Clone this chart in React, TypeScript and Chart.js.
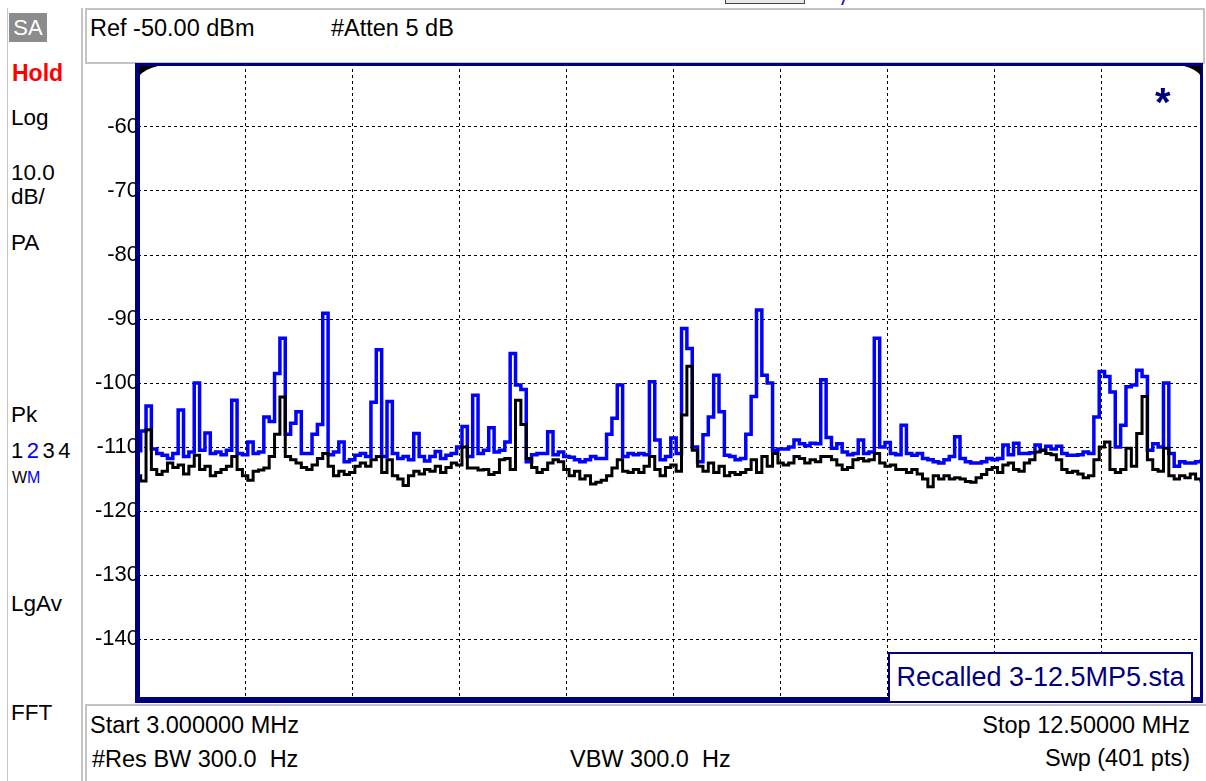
import React, { useEffect, useRef } from 'react';
import { Chart, registerables } from 'chart.js';

Chart.register(...registerables);

// ---- sweep / axis definition ----
const START_MHZ = 3.0;
const STOP_MHZ = 12.5;
const POINTS = 201;
const VISIBLE_STOP_MHZ = 12.438; // the right-hand division is cut off on screen
const REF_DBM = -50;
const BOTTOM_DBM = -150;
const Y_TICKS = [-60, -70, -80, -90, -100, -110, -120, -130, -140];
const X_GRID = [3.95, 4.9, 5.85, 6.8, 7.75, 8.7, 9.65, 10.6, 11.55];

// ---- text ----
const HEADER_LEFT = 'Ref -50.00 dBm';
const HEADER_MID = '#Atten 5 dB';
const FOOT_START = 'Start 3.000000 MHz';
const FOOT_STOP = 'Stop 12.50000 MHz';
const FOOT_RBW = '#Res BW 300.0  Hz';
const FOOT_VBW = 'VBW 300.0  Hz';
const FOOT_SWP = 'Swp (401 pts)';
const RECALLED = 'Recalled 3-12.5MP5.sta';

// ---- trace 2 (blue, max hold) in dBm ----
const TRACE2_MAXHOLD = [
  -110.6, -107.5, -103.6, -110.3, -111.0, -111.3, -111.8, -111.0, -104.2, -111.5,
  -110.8, -100.0, -110.5, -107.8, -111.0, -110.8, -111.2, -110.5, -102.7, -111.0,
  -111.2, -109.2, -111.0, -110.8, -105.3, -106.0, -98.5, -93.0, -108.0, -106.3,
  -104.5, -111.0, -111.0, -108.0, -106.5, -89.1, -111.2, -110.8, -109.2, -112.3,
  -112.0, -111.3, -111.0, -111.5, -103.0, -94.8, -111.5, -102.9, -111.0, -111.8,
  -111.5, -112.0, -107.9, -111.5, -112.2, -111.5, -110.7, -111.8, -111.3, -111.0,
  -110.0, -106.8, -111.5, -101.9, -111.0, -110.5, -107.0, -110.8, -110.5, -109.2,
  -95.4, -100.3, -101.0, -112.3, -111.2, -111.0, -111.0, -107.6, -111.2, -110.8,
  -111.5, -111.6, -112.0, -112.3, -112.0, -111.5, -111.8, -111.8, -108.0, -105.5,
  -100.3, -111.5, -111.0, -111.2, -111.0, -111.2, -99.8, -108.9, -112.0, -111.5,
  -108.6, -111.0, -91.5, -94.6, -110.0, -112.3, -108.1, -105.3, -98.8, -104.5,
  -111.3, -111.5, -112.0, -111.8, -108.0, -102.1, -88.6, -98.8, -100.0, -110.5,
  -110.3, -110.3, -110.0, -108.9, -109.5, -109.8, -109.4, -109.5, -99.5, -108.5,
  -110.2, -109.5, -110.8, -111.2, -111.0, -108.9, -111.0, -110.8, -93.0, -110.0,
  -109.3, -111.0, -111.2, -106.6, -111.0, -111.3, -111.0, -111.8, -112.0, -112.3,
  -112.5, -112.0, -111.5, -108.4, -111.8, -112.3, -112.5, -112.5, -112.3, -111.8,
  -112.0, -111.8, -109.7, -111.2, -109.4, -111.0, -111.0, -110.9, -109.7, -110.5,
  -109.9, -110.3, -109.9, -111.0, -111.3, -111.3, -111.2, -110.8, -111.0, -105.3,
  -98.2, -99.0, -101.4, -110.0, -106.6, -100.6, -100.3, -98.0, -99.0, -110.5,
  -109.5, -110.0, -100.0, -111.0, -113.0, -112.3, -112.5, -112.5, -112.3, -112.2,
  -112.2,
];

// ---- trace 1 (black, clear write) in dBm ----
const TRACE1_WRITE = [
  -114.5, -115.3, -107.3, -113.5, -114.3, -113.8, -112.5, -113.2, -112.8, -114.2,
  -113.0, -111.3, -113.5, -113.0, -114.5, -114.0, -113.5, -113.0, -111.5, -113.5,
  -114.5, -115.2, -113.8, -113.6, -113.3, -111.5, -108.0, -102.2, -111.5, -112.0,
  -112.5, -113.2, -113.5, -112.8, -111.8, -111.0, -113.0, -114.5, -113.8, -114.3,
  -114.0, -113.0, -112.5, -113.0, -112.0, -111.5, -114.0, -112.0, -114.5, -115.0,
  -116.0, -114.5, -113.8, -114.2, -113.5, -113.8, -113.0, -114.0, -113.2, -112.5,
  -112.8, -110.0, -113.3, -113.3, -113.6, -113.5, -114.3, -114.0, -112.0, -111.8,
  -113.5, -102.7, -106.5, -111.8, -113.2, -114.0, -113.5, -112.5, -112.0, -112.3,
  -113.5, -114.5, -113.8, -115.0, -114.5, -115.8, -115.5, -115.2, -114.5, -113.3,
  -112.0, -113.8, -114.0, -113.5, -114.0, -113.0, -111.5, -113.5, -114.5, -113.2,
  -112.8, -113.8, -105.0, -97.4, -110.5, -113.0, -113.8, -112.5, -114.0, -113.0,
  -114.5, -114.0, -114.3, -114.0, -113.5, -112.0, -114.0, -111.5, -113.0, -111.0,
  -112.5, -112.8, -112.5, -111.5, -111.8, -112.5, -112.0, -112.3, -111.5, -111.5,
  -112.0, -112.8, -113.5, -113.2, -112.0, -111.8, -112.2, -112.0, -111.0, -112.5,
  -113.0, -112.8, -113.5, -113.5, -114.0, -113.5, -114.2, -115.0, -116.2, -114.5,
  -115.0, -114.5, -115.0, -114.8, -115.0, -115.4, -115.5, -114.8, -114.3, -113.5,
  -113.2, -114.0, -112.8, -112.5, -113.5, -113.8, -112.5, -112.0, -110.8, -110.5,
  -111.0, -111.2, -112.0, -113.5, -114.0, -113.8, -114.2, -114.8, -114.5, -112.0,
  -110.0, -109.2, -113.5, -114.0, -113.5, -110.2, -113.0, -107.9, -102.1, -112.0,
  -113.5, -113.8, -110.2, -114.5, -115.0, -114.5, -114.8, -114.2, -115.0, -115.3,
  -115.0,
];

const FREQS = Array.from({ length: POINTS }, (_, i) => START_MHZ + (i * (STOP_MHZ - START_MHZ)) / (POINTS - 1));

const NAVY = '#00007f';
const FONT = '"Liberation Sans", Arial, sans-serif';
const PANEL_GRAY = '#c4c4c4';

const framePlugin = {
  id: 'saFrame',
  afterDraw(chart: any) {
    const { ctx, chartArea: a } = chart;
    ctx.save();
    ctx.fillStyle = NAVY;
    const l = a.left - 3;
    const w = a.right + 1 - l;
    ctx.fillRect(l, a.top, w, 3);
    ctx.fillRect(l, a.top, 5, a.bottom - a.top);
    ctx.fillRect(l, a.bottom - 6, w, 6);
    ctx.fillRect(a.right - 2, a.top, 3, a.bottom - a.top);
    // corner wedges
    ctx.fillStyle = '#000';
    ctx.beginPath();
    ctx.moveTo(a.left + 1, a.top + 3);
    ctx.lineTo(a.left + 20, a.top + 3);
    ctx.quadraticCurveTo(a.left + 7, a.top + 6, a.left + 1, a.top + 13);
    ctx.closePath();
    ctx.fill();
    ctx.beginPath();
    ctx.moveTo(a.right - 1, a.top + 3);
    ctx.lineTo(a.right - 18, a.top + 3);
    ctx.quadraticCurveTo(a.right - 6, a.top + 6, a.right - 1, a.top + 13);
    ctx.closePath();
    ctx.fill();
    ctx.restore();
  },
};

type TProps = {
  x?: number;
  right?: number;
  cy: number;
  size: number;
  color?: string;
  bold?: boolean;
  spacing?: number;
  children: React.ReactNode;
};

const T = ({ x, right, cy, size, color = '#000', bold = false, spacing = 0, children }: TProps) => (
  <div
    style={{
      position: 'absolute',
      left: right === undefined ? x : undefined,
      right: right !== undefined ? 1206 - right : undefined,
      top: cy - 0.49 * size,
      fontSize: size,
      lineHeight: 1,
      whiteSpace: 'pre',
      color,
      fontWeight: bold ? 'bold' : 'normal',
      letterSpacing: spacing,
      fontFamily: FONT,
    }}
  >
    {children}
  </div>
);

export default function App() {
  const canvasRef = useRef<HTMLCanvasElement | null>(null);

  useEffect(() => {
    if (!canvasRef.current) return;
    const chart = new Chart(canvasRef.current, {
      type: 'line',
      data: {
        datasets: [
          {
            label: 'Trace 1 (W)',
            data: FREQS.map((f, i) => ({ x: f, y: TRACE1_WRITE[i] })),
            borderColor: '#000000',
            borderWidth: 3,
            pointRadius: 0,
            stepped: 'middle',
            fill: false,
          },
          {
            label: 'Trace 2 (M)',
            data: FREQS.map((f, i) => ({ x: f, y: TRACE2_MAXHOLD[i] })),
            borderColor: '#0000ff',
            borderWidth: 3.5,
            pointRadius: 0,
            stepped: 'middle',
            fill: false,
          },
        ],
      },
      options: {
        responsive: false,
        animation: false,
        devicePixelRatio: 1,
        events: [],
        layout: { padding: { left: 88, right: 4, top: 63, bottom: 78 } },
        plugins: { legend: { display: false }, tooltip: { enabled: false } },
        scales: {
          x: {
            type: 'linear',
            min: START_MHZ,
            max: VISIBLE_STOP_MHZ,
            afterBuildTicks: (s: any) => {
              s.ticks = X_GRID.map((v) => ({ value: v }));
            },
            afterFit: (s: any) => {
              s.height = 0;
            },
            ticks: { display: false },
            grid: { color: '#000', lineWidth: 1, drawTicks: false },
            border: { display: false, dash: [3, 3] },
          },
          y: {
            type: 'linear',
            min: BOTTOM_DBM,
            max: REF_DBM,
            afterBuildTicks: (s: any) => {
              s.ticks = Y_TICKS.map((v) => ({ value: v }));
            },
            afterFit: (s: any) => {
              s.width = 50;
            },
            ticks: {
              padding: -1,
              color: '#000',
              font: { family: FONT, size: 22 },
              callback: (v: any) => String(v),
            },
            grid: { color: '#000', lineWidth: 1, drawTicks: false },
            border: { display: false, dash: [3, 3] },
          },
        },
      },
      plugins: [framePlugin],
    } as any);
    return () => chart.destroy();
  }, []);

  return (
    <div
      style={{
        position: 'absolute',
        left: 0,
        top: 0,
        width: 1206,
        height: 781,
        background: '#fff',
        overflow: 'hidden',
        fontFamily: FONT,
      }}
    >
      {/* partial element at the very top */}
      <div style={{ position: 'absolute', left: 725, top: -8, width: 78, height: 10, border: '1px solid #444', background: '#e8e8e8' }} />
      <div style={{ position: 'absolute', left: 842, top: 0, width: 2, height: 5, background: '#2020c0', transform: 'skewX(-20deg)' }} />

      {/* left panel */}
      <div style={{ position: 'absolute', left: 7, top: 8, width: 1, height: 773, background: PANEL_GRAY }} />
      <div style={{ position: 'absolute', left: 81, top: 8, width: 2, height: 773, background: PANEL_GRAY }} />
      <div
        style={{
          position: 'absolute',
          left: 9,
          top: 13,
          width: 38,
          height: 29,
          background: '#8c8c8c',
          color: '#fff',
          fontSize: 22,
          lineHeight: '29px',
          textAlign: 'center',
          fontFamily: FONT,
        }}
      >
        SA
      </div>
      <T x={12} cy={73.5} size={23} color="#ff0000" bold>Hold</T>
      <T x={11} cy={118} size={22.5}>Log</T>
      <T x={11} cy={173} size={22.5}>10.0</T>
      <T x={11} cy={197} size={22.5}>dB/</T>
      <T x={11} cy={243} size={22.5}>PA</T>
      <T x={11} cy={415} size={22.5}>Pk</T>
      <div
        style={{
          position: 'absolute',
          left: 11,
          top: 451 - 0.49 * 22,
          fontSize: 22,
          lineHeight: 1,
          letterSpacing: 3.5,
          fontFamily: FONT,
          whiteSpace: 'pre',
        }}
      >
        <span style={{ color: '#000' }}>1</span>
        <span style={{ color: '#0000ff' }}>2</span>
        <span style={{ color: '#000' }}>34</span>
      </div>
      <div
        style={{
          position: 'absolute',
          left: 12,
          top: 477.5 - 0.49 * 16,
          fontSize: 16,
          lineHeight: 1,
          fontFamily: FONT,
          whiteSpace: 'pre',
        }}
      >
        <span style={{ color: '#000' }}>W</span>
        <span style={{ color: '#0000ff' }}>M</span>
      </div>
      <T x={11} cy={604} size={22.5}>LgAv</T>
      <T x={11} cy={713} size={22.5}>FFT</T>

      {/* header box */}
      <div
        style={{
          position: 'absolute',
          left: 85,
          top: 8,
          width: 1116,
          height: 52,
          border: `2px solid ${PANEL_GRAY}`,
        }}
      />
      <T x={90} cy={28.5} size={23.5}>{HEADER_LEFT}</T>
      <T x={331} cy={28.5} size={23.5}>{HEADER_MID}</T>

      {/* footer box */}
      <div
        style={{
          position: 'absolute',
          left: 85,
          top: 704,
          width: 1130,
          height: 90,
          border: `2px solid ${PANEL_GRAY}`,
        }}
      />
      <T x={90} cy={726} size={23.5}>{FOOT_START}</T>
      <T x={92} cy={760} size={23.5}>{FOOT_RBW}</T>
      <T x={570} cy={760} size={23.5}>{FOOT_VBW}</T>
      <T right={1190} cy={726} size={23.5}>{FOOT_STOP}</T>
      <T right={1190} cy={759} size={23.5}>{FOOT_SWP}</T>

      <canvas
        ref={canvasRef}
        width={1206}
        height={781}
        style={{ position: 'absolute', left: 0, top: 0, width: 1206, height: 781 }}
      />

      {/* marker asterisk */}
      <div
        style={{
          position: 'absolute',
          left: 1155,
          top: 82,
          fontSize: 40,
          lineHeight: 1,
          fontWeight: 'bold',
          color: NAVY,
          fontFamily: FONT,
        }}
      >
        *
      </div>

      {/* recalled state box */}
      <div
        style={{
          position: 'absolute',
          left: 888,
          top: 652,
          width: 301,
          height: 47,
          border: `2px solid ${NAVY}`,
          background: '#fff',
          color: NAVY,
          fontSize: 27,
          lineHeight: '47px',
          textAlign: 'center',
          fontFamily: FONT,
          whiteSpace: 'pre',
        }}
      >
        {RECALLED}
      </div>
    </div>
  );
}
